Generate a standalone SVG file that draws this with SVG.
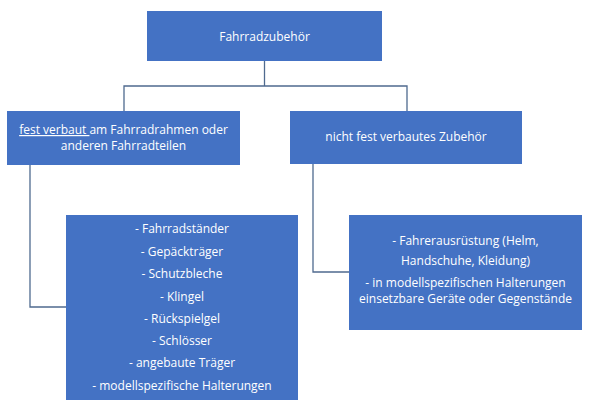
<svg xmlns="http://www.w3.org/2000/svg" width="592" height="409" viewBox="0 0 592 409">
<style>
.box{fill:#4472C4;}
.t{font-family:"Open Sans","Liberation Sans",sans-serif;font-size:12px;fill:#FFFFFF;text-anchor:middle;}
.c{fill:none;stroke:#4F6A8F;stroke-width:1.3;}
</style>
<rect width="592" height="409" fill="#FFFFFF"/>
<g id="connectors">
<polyline class="c" points="264.5,61 264.5,86"/>
<polyline class="c" points="124,111 124,86 407,86 407,111"/>
<polyline class="c" points="30,165 30,307 66,307"/>
<polyline class="c" points="313,164 313,272 349,272"/>
</g>
<g id="root">
<rect class="box" x="147" y="11" width="235" height="50"/>
<text class="t" x="264.5" y="41">Fahrradzubehör</text>
</g>
<g id="fest">
<rect class="box" x="7" y="111" width="233" height="54"/>
<text class="t" x="123.5" y="134"><tspan text-decoration="underline">fest verbaut </tspan>am Fahrradrahmen oder</text>
<text class="t" x="123.5" y="150">anderen Fahrradteilen</text>
</g>
<g id="nichtfest">
<rect class="box" x="290" y="111" width="232" height="53"/>
<text class="t" x="406" y="141">nicht fest verbautes Zubehör</text>
</g>
<g id="festliste">
<rect class="box" x="66" y="215" width="232" height="185"/>
<text class="t" x="182" y="233">- Fahrradständer</text>
<text class="t" x="182" y="256">- Gepäckträger</text>
<text class="t" x="182" y="278">- Schutzbleche</text>
<text class="t" x="182" y="301">- Klingel</text>
<text class="t" x="182" y="323">- Rückspielgel</text>
<text class="t" x="182" y="345">- Schlösser</text>
<text class="t" x="182" y="367">- angebaute Träger</text>
<text class="t" x="182" y="390">- modellspezifische Halterungen</text>
</g>
<g id="nichtfestliste">
<rect class="box" x="349" y="215" width="233" height="115"/>
<text class="t" x="465.5" y="245">- Fahrerausrüstung (Helm,</text>
<text class="t" x="465.5" y="265">Handschuhe, Kleidung)</text>
<text class="t" x="465.5" y="287">- in modellspezifischen Halterungen</text>
<text class="t" x="465.5" y="303">einsetzbare Geräte oder Gegenstände</text>
</g>
</svg>
